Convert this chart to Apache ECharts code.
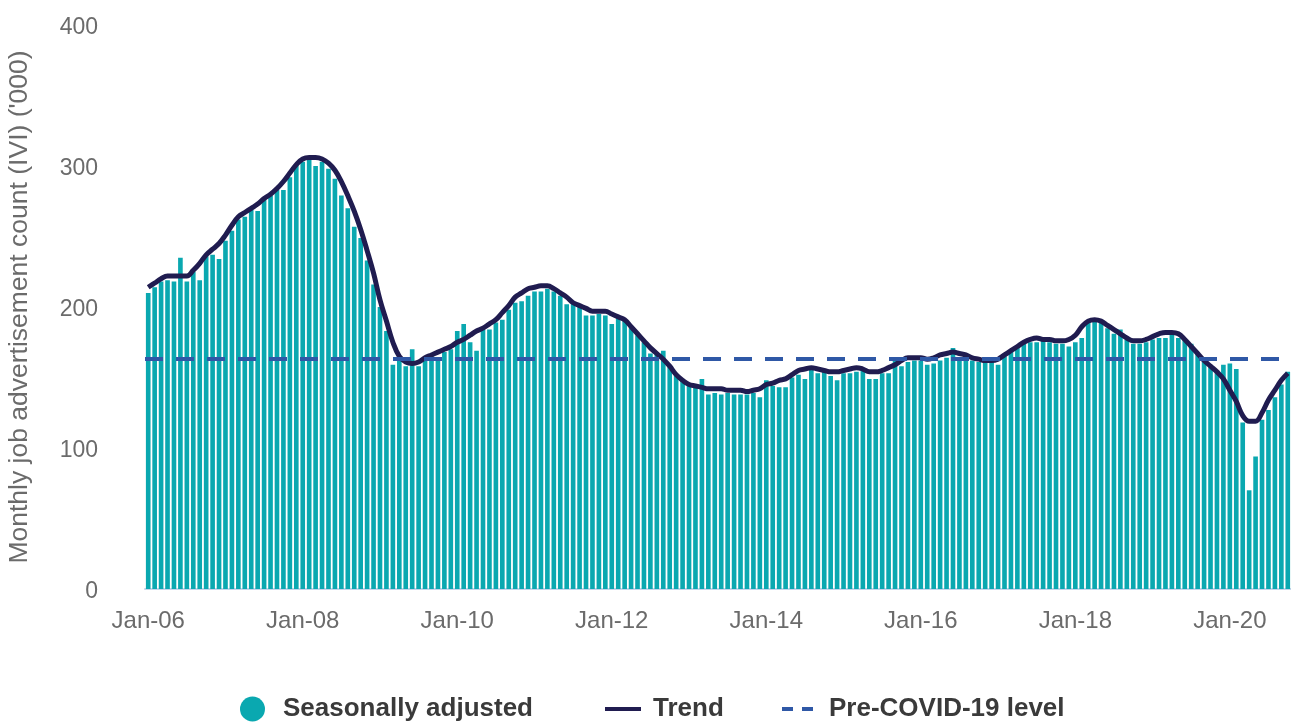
<!DOCTYPE html>
<html>
<head>
<meta charset="utf-8">
<script src="https://cdn.jsdelivr.net/npm/echarts@6/dist/echarts.min.js"></script>
<style>
html,body{margin:0;padding:0;background:#fff;}
#chart{width:1291px;height:723px;}
</style>
</head>
<body>
<div id="chart"></div>
<script>
// monthly, Jan-06 to Oct-20
var monthNames = ['Jan','Feb','Mar','Apr','May','Jun','Jul','Aug','Sep','Oct','Nov','Dec'];
var startYear = 2006;
var monthCount = 178;

var seasonallyAdjusted = [
  210,214,218,219,218,235,218,225,219,236,237,234,
  247,254,262,264,269,268,277,279,283,283,292,301,
  303,305,300,303,298,291,279,270,257,249,233,216,
  200,183,159,162,158,170,158,162,165,164,168,170,
  183,188,175,169,184,184,189,191,198,203,204,208,
  211,211,213,211,208,202,203,200,194,194,195,194,
  188,192,191,185,180,175,167,167,169,158,152,148,
  145,144,149,138,139,138,139,138,138,138,139,136,
  148,144,143,143,150,152,149,156,153,154,151,148,
  153,153,154,157,149,149,153,153,164,158,161,162,
  162,159,160,162,164,171,164,162,162,161,161,161,
  159,165,168,173,175,175,175,176,175,174,174,172,
  175,178,190,190,189,185,181,184,177,174,174,175,
  177,178,178,181,178,177,174,167,163,158,153,159,
  160,156,118,70,94,120,127,136,145,154
];

var trend = [
  214,217,220,222,222,222,222,226,231,237,241,245,
  251,258,264,267,270,273,277,280,284,289,295,301,
  305,306,306,305,302,297,289,279,268,255,240,224,
  205,190,175,165,161,160,161,164,166,168,170,172,
  175,177,180,183,185,188,191,196,201,207,210,213,
  214,215,215,213,210,207,203,201,199,197,197,197,
  195,193,191,186,181,176,171,167,163,158,152,148,
  145,144,143,142,142,142,141,141,141,140,141,142,
  145,146,148,149,152,155,156,157,156,155,154,154,
  155,156,157,156,154,154,155,157,159,162,164,164,
  164,163,164,166,167,168,167,166,164,163,162,162,
  163,166,169,172,175,177,178,177,177,176,176,177,
  180,186,190,191,190,187,184,181,178,176,176,177,
  179,181,182,182,181,177,172,167,162,158,154,149,
  141,133,123,119,119,125,134,141,148,153
];

var preCovidLevel = 163;
var yTickValues = [0, 100, 200, 300, 400];

var categories = [];
for (var i = 0; i < monthCount; i++) {
  var yr = startYear + Math.floor(i / 12);
  categories.push(monthNames[i % 12] + '-' + String(yr).slice(2));
}

var tealColor = '#0aa8b0';
var trendColor = '#201c50';
var dashColor = '#2f58a6';
var axisTextColor = '#6b6b6b';

function legendText(gapLeft) {
  return {
    color: '#3a3a3a',
    fontSize: 26,
    fontWeight: 'bold',
    fontFamily: "'Liberation Sans', Arial, sans-serif",
    padding: [0, 0, 0, gapLeft]
  };
}

var myChart = echarts.init(document.getElementById('chart'), null, {renderer: 'canvas'});

var option = {
  animation: false,
  backgroundColor: '#fff',
  textStyle: {fontFamily: "'Liberation Sans', Arial, sans-serif"},
  grid: {left: 145, right: 0, top: 25, bottom: 134, containLabel: false, outerBoundsMode: 'none'},
  legend: [
    {
      data: [{name: 'Seasonally adjusted', icon: 'circle'}],
      left: 240, top: 696, padding: 0,
      itemWidth: 25, itemHeight: 25,
      selectedMode: false,
      textStyle: legendText(13)
    },
    {
      data: [{name: 'Trend', icon: 'rect', itemStyle: {color: trendColor}}],
      left: 605, top: 696, padding: 0,
      itemWidth: 36, itemHeight: 4,
      selectedMode: false,
      textStyle: legendText(7)
    },
    {
      data: [{name: 'Pre-COVID-19 level', icon: 'path://M0,0h11v4h-11z M20,0h11v4h-11z', itemStyle: {color: dashColor}}],
      left: 782, top: 696, padding: 0,
      itemWidth: 31, itemHeight: 4,
      selectedMode: false,
      textStyle: legendText(11)
    }
  ],
  xAxis: {
    type: 'category',
    data: categories,
    boundaryGap: true,
    axisLine: {lineStyle: {color: '#c5d5ea', width: 2}},
    axisTick: {show: false},
    axisLabel: {
      interval: function (idx) { return idx % 24 === 0; },
      color: axisTextColor,
      fontSize: 24,
      margin: 20
    },
    splitLine: {show: false}
  },
  yAxis: {
    type: 'value',
    min: yTickValues[0],
    max: yTickValues[yTickValues.length - 1],
    interval: 100,
    name: "Monthly job advertisement count (IVI) ('000)",
    nameLocation: 'middle',
    nameGap: 112,
    nameTextStyle: {color: axisTextColor, fontSize: 26.5},
    axisLine: {show: false},
    axisTick: {show: false},
    splitLine: {show: false},
    axisLabel: {
      margin: 47,
      formatter: '{v|{value}}',
      rich: {v: {color: axisTextColor, fontSize: 23, padding: [6, 0, 0, 0]}}
    }
  },
  series: [
    {
      name: 'Seasonally adjusted',
      type: 'bar',
      data: seasonallyAdjusted,
      barCategoryGap: '28%',
      itemStyle: {color: tealColor},
      z: 1
    },
    {
      name: 'Trend',
      type: 'line',
      data: trend,
      smooth: 0.4,
      symbol: 'none',
      itemStyle: {color: trendColor},
      lineStyle: {color: trendColor, width: 5},
      z: 3
    },
    {
      name: 'Pre-COVID-19 level',
      type: 'line',
      data: [],
      symbol: 'none',
      itemStyle: {color: dashColor},
      lineStyle: {color: dashColor, width: 4, type: [18, 13]},
      z: 4,
      markLine: {
        silent: true,
        symbol: ['none', 'none'],
        label: {show: false},
        lineStyle: {color: dashColor, width: 4, type: [18, 13]},
        data: [{yAxis: preCovidLevel}]
      }
    }
  ]
};

myChart.setOption(option);
</script>
</body>
</html>
